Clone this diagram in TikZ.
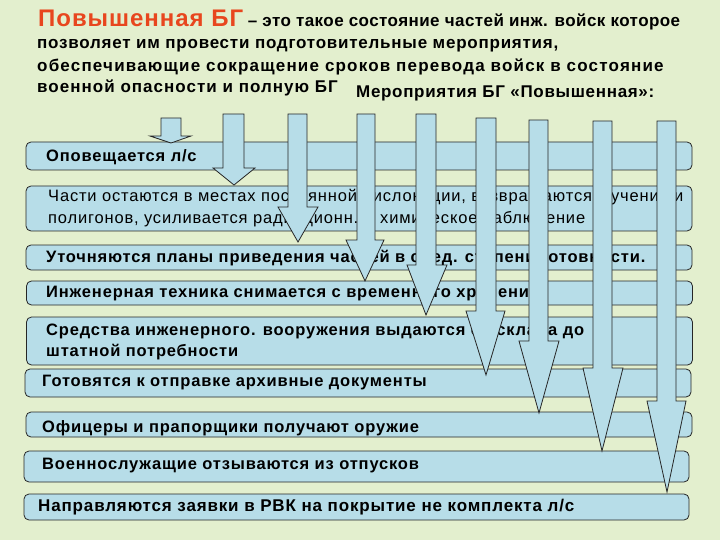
\documentclass[tikz,border=0pt]{standalone}
\usepackage{fontspec}
\setmainfont{Liberation Sans}
\newfontfamily\boxfont[LetterSpace=5]{Liberation Sans}
\definecolor{bgc}{RGB}{227,239,206}
\definecolor{boxc}{RGB}{183,221,232}
\definecolor{titlered}{RGB}{232,70,30}
\newcommand\blockarr[8]{\draw[arr] (#1,#3) -- (#1,#4) -- (#5,#4) -- (#7,#8) -- (#6,#4) -- (#2,#4) -- (#2,#3) -- cycle;}
\newcommand\lsp[1]{\addfontfeature{LetterSpace=#1}}
\begin{document}
\begin{tikzpicture}[x=1pt,y=-1pt,
  box/.style={draw=black!85, fill=boxc, rounded corners=5pt, line width=0.8pt, inner sep=0pt, minimum width=666pt},
  lbl/.style={anchor=west, inner sep=0pt, font=\boxfont\fontsize{16.5}{20}\selectfont\bfseries},
  ttl/.style={anchor=west, inner sep=0pt, font=\fontsize{17}{21}\selectfont\bfseries},
  arr/.style={draw=black!85, fill=boxc, line width=0.8pt, line join=miter}]
\fill[bgc] (0,0) rectangle (720,540);
\useasboundingbox (0,0) rectangle (720,540);
% title
\node[ttl] (l1) at (38,20) {{\color{titlered}\fontsize{24}{28}\selectfont\lsp{4}Повышенная БГ} {\lsp{2.5}– это такое состояние частей инж. войск которое}};
\node[ttl] (l2) at (37,46) {\lsp{4.5}позволяет им провести подготовительные мероприятия,};
\node[ttl] (l3) at (37,67) {\lsp{7}обеспечивающие сокращение сроков перевода войск в состояние};
\node[ttl] (l4) at (37,88) {\lsp{6}военной опасности и полную БГ};
\node[ttl] (m) at (356,93) {\lsp{4}Мероприятия БГ «Повышенная»:};
% boxes
\node[box, minimum height=28pt] (b1) at (359,156) {};
\node[box, minimum height=45pt] (b2) at (359,208.5) {};
\node[box, minimum height=25pt] (b3) at (359,257.5) {};
\node[box, minimum height=24pt] (b4) at (359.5,293) {};
\node[box, minimum height=48pt] (b5) at (359.5,341) {};
\node[box, minimum height=28pt] (b6) at (358,383) {};
\node[box, minimum height=25pt] (b7) at (359,424.5) {};
\node[box, minimum height=31pt, minimum width=665pt] (b8) at (356.5,466.5) {};
\node[box, minimum height=26pt, minimum width=665pt] (b9) at (356.5,507) {};
% labels
\node[lbl] (t1) at (46,157) {Оповещается л/с};
\node[lbl, font=\boxfont\fontsize{16.5}{22}\selectfont, align=left] (t2) at (48,208.5) {Части остаются в местах постоянной дислокации, возвращаются с учений и\\полигонов, усиливается радиационн. и химическое наблюдение};
\node[lbl] (t3) at (46,258) {Уточняются планы приведения частей в след. степени готовности.};
\node[lbl] (t4) at (46,294) {Инженерная техника снимается с временного хранения};
\node[lbl, align=left, font=\boxfont\fontsize{16.5}{21}\selectfont\bfseries] (t5) at (46,341.5) {Средства инженерного. вооружения выдаются со склада до\\штатной потребности};
\node[lbl] (t6) at (42,383) {Готовятся к отправке архивные документы};
\node[lbl] (t7) at (42,428) {Офицеры и прапорщики получают оружие};
\node[lbl] (t8) at (42,466) {Военнослужащие отзываются из отпусков};
\node[lbl, font=\boxfont\fontsize{17}{21}\selectfont\bfseries] (t9) at (38,507) {Направляются заявки в РВК на покрытие не комплекта л/с};
% block arrows
\blockarr{161}{181}{118}{136}{150}{191}{171}{143}
\blockarr{223}{244}{114}{168}{213}{255}{234}{185}
\blockarr{288}{307}{114}{207}{278}{318}{298}{242}
\blockarr{357}{375}{114}{240}{346}{384}{365}{281}
\blockarr{416}{436}{114}{265}{407}{447}{426}{315}
\blockarr{476}{496}{118}{311}{466}{505}{486}{375}
\blockarr{529}{548}{120}{341}{519}{559}{539}{413}
\blockarr{593}{612}{121}{368}{583}{623}{602}{451}
\blockarr{657}{676}{121}{401}{647}{686}{667}{492}
\end{tikzpicture}
\end{document}
